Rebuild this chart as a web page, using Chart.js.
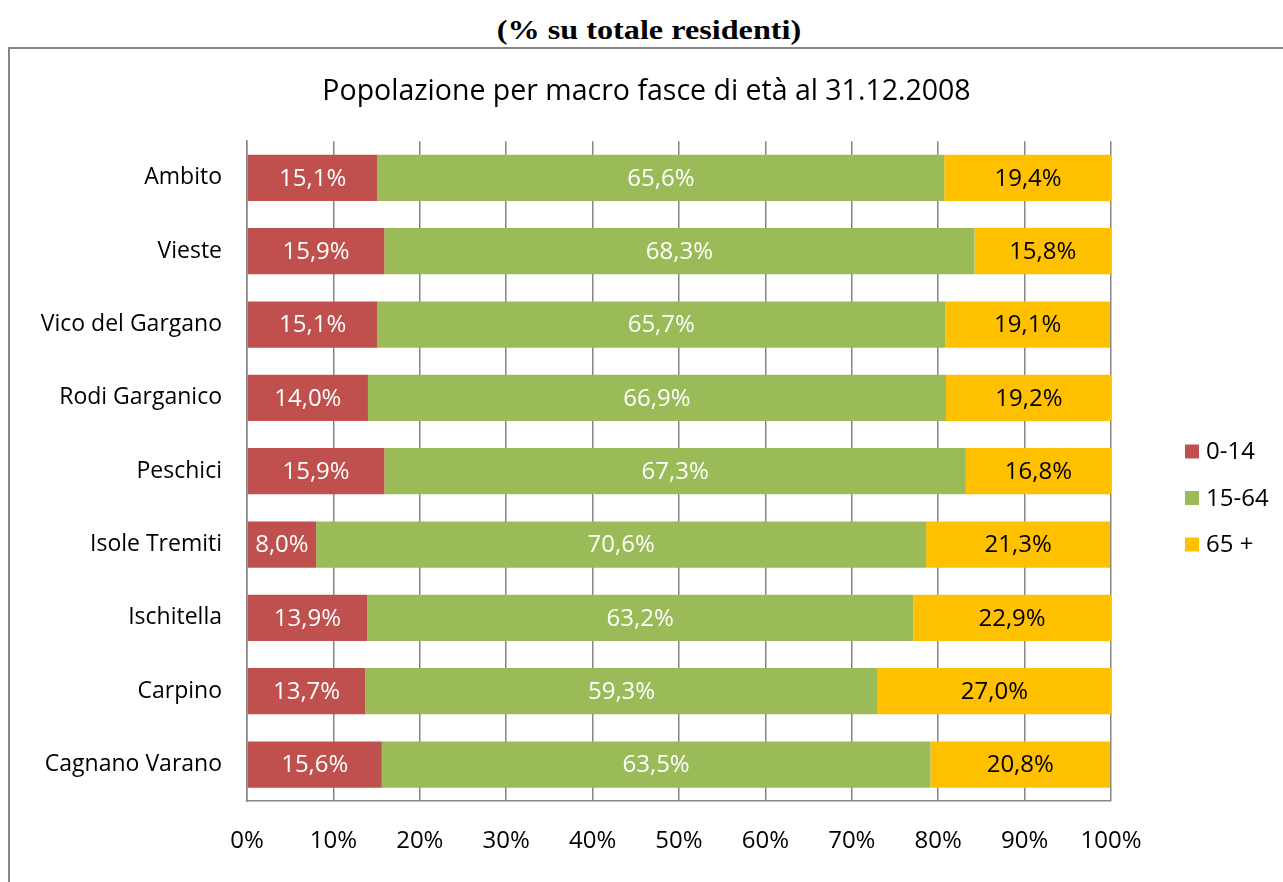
<!DOCTYPE html>
<html>
<head>
<meta charset="utf-8">
<script src="https://cdn.jsdelivr.net/npm/chart.js@4/dist/chart.umd.min.js"></script>
<style>
  body { margin: 0; background: #fff; width: 1283px; height: 882px; overflow: hidden; position: relative; }
  #top-title { position: absolute; left: 0; width: 1298px; top: 12px; text-align: center;
    font-family: "Liberation Serif", serif; font-weight: bold; font-size: 28px; line-height: 36px; color: #000;
    transform: scaleX(1.15); transform-origin: 649px 0; }
  #frame { position: absolute; left: 8px; top: 47px; right: -10px; bottom: -10px;
    border-left: 2px solid #868686; border-top: 2px solid #868686; }
  #wrap { position: absolute; left: 10px; top: 49px; width: 1273px; height: 833px; }
</style>
</head>
<body>
<div id="top-title">(% su totale residenti)</div>
<div id="frame"></div>
<div id="wrap"><canvas id="chart"></canvas></div>
<script>
const comuni = ['Ambito', 'Vieste', 'Vico del Gargano', 'Rodi Garganico', 'Peschici',
  'Isole Tremiti', 'Ischitella', 'Carpino', 'Cagnano Varano'];
const fascia0_14 = [15.1, 15.9, 15.1, 14.0, 15.9, 8.0, 13.9, 13.7, 15.6];
const fascia15_64 = [65.6, 68.3, 65.7, 66.9, 67.3, 70.6, 63.2, 59.3, 63.5];
const fascia65 = [19.4, 15.8, 19.1, 19.2, 16.8, 21.3, 22.9, 27.0, 20.8];
const seriesNames = ['0-14', '15-64', '65 +'];
const xTicks = [0, 10, 20, 30, 40, 50, 60, 70, 80, 90, 100];

const FONT = "'Open Sans', sans-serif";
const gridGray = '#868686';

// etichette dentro le barre + legenda a destra
const labelPlugin = {
  id: 'barLabels',
  afterDatasetsDraw(chart) {
    const ctx = chart.ctx;
    ctx.save();
    ctx.font = `24px ${FONT}`;
    ctx.textAlign = 'center';
    ctx.textBaseline = 'middle';
    chart.data.datasets.forEach((ds, i) => {
      const meta = chart.getDatasetMeta(i);
      ctx.fillStyle = ds.labelColor;
      meta.data.forEach((bar, j) => {
        const cx = (bar.x + bar.base) / 2;
        ctx.fillText(ds.data[j].toFixed(1).replace('.', ',') + '%', cx, bar.y + 1);
      });
    });
    ctx.restore();
  },
  afterDraw(chart) {
    const ctx = chart.ctx;
    const area = chart.chartArea;
    const x0 = area.right + 74;
    const yMid = 449;
    ctx.save();
    ctx.font = `24px ${FONT}`;
    ctx.textBaseline = 'middle';
    ctx.textAlign = 'left';
    chart.data.datasets.forEach((ds, i) => {
      const y = yMid + (i - 1) * 46.5;
      ctx.fillStyle = ds.backgroundColor;
      ctx.fillRect(x0, y - 7, 14, 14);
      ctx.fillStyle = '#000';
      ctx.fillText(ds.label, x0 + 21, y + 1);
    });
    ctx.restore();
  }
};

new Chart(document.getElementById('chart'), {
  type: 'bar',
  data: {
    labels: comuni,
    datasets: [
      { label: seriesNames[0], data: fascia0_14, backgroundColor: '#C0504D', labelColor: '#fff' },
      { label: seriesNames[1], data: fascia15_64, backgroundColor: '#9BBB59', labelColor: '#fff' },
      { label: seriesNames[2], data: fascia65, backgroundColor: '#FFC000', labelColor: '#000' }
    ]
  },
  options: {
    indexAxis: 'y',
    responsive: true,
    maintainAspectRatio: false,
    animation: false,
    barPercentage: 0.63,
    categoryPercentage: 1,
    borderWidth: 0,
    layout: { padding: { left: 0, right: 0, top: 0, bottom: 0 } },
    plugins: {
      legend: { display: false },
      tooltip: { enabled: false },
      title: {
        display: true,
        text: 'Popolazione per macro fasce di età al 31.12.2008',
        color: '#000',
        font: { family: FONT, size: 28.5, weight: 'normal' },
        padding: { top: 26, bottom: 32 }
      }
    },
    scales: {
      x: {
        stacked: true,
        min: 0,
        max: 100,
        afterBuildTicks: (scale) => { scale.ticks = xTicks.map(v => ({ value: v })); },
        grid: { color: gridGray, lineWidth: 1.5, drawTicks: false },
        border: { color: gridGray, width: 1.5 },
        ticks: {
          color: '#000',
          padding: 26,
          maxRotation: 0,
          font: { family: FONT, size: 24 },
          callback: (v) => v + '%'
        }
      },
      y: {
        stacked: true,
        afterFit: (scale) => { scale.width = 237; },
        grid: { display: false, drawTicks: false },
        border: { color: gridGray, width: 1.5 },
        ticks: {
          color: '#000',
          padding: 25,
          font: { family: FONT, size: 23 }
        }
      },
      // spazio vuoto a destra per la legenda
      legendSpace: {
        type: 'category',
        position: 'right',
        labels: comuni,
        afterFit: (scale) => { scale.width = 172; },
        grid: { display: false, drawTicks: false },
        border: { display: false },
        ticks: { display: false }
      }
    }
  },
  plugins: [labelPlugin]
});
</script>
</body>
</html>
